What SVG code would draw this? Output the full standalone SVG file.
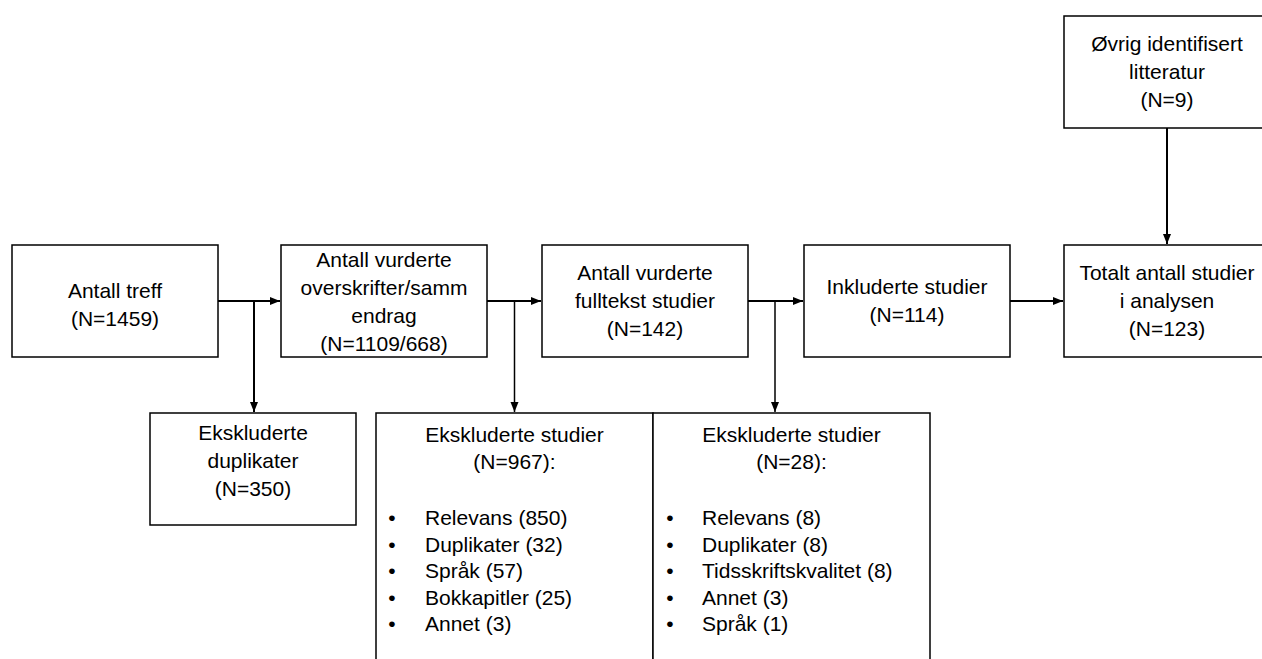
<svg xmlns="http://www.w3.org/2000/svg" width="1262" height="659" viewBox="0 0 1262 659">
  <style>
    .box { fill: #ffffff; stroke: #000000; stroke-width: 1.5; }
    .t { font-family: "Liberation Sans", Arial, sans-serif; font-size: 21px; fill: #000000; }
    .c { text-anchor: middle; }
    .conn { fill: none; stroke: #000000; stroke-width: 2; }
    .thin { stroke-width: 1.5; }
  </style>
  <defs>
    <marker id="arrow" markerUnits="userSpaceOnUse" markerWidth="10" markerHeight="10" viewBox="0 0 10 10" refX="10" refY="5" orient="auto">
      <path d="M0,1 L10,5 L0,9 Z" fill="#000000"/>
    </marker>
  </defs>
  <rect width="1262" height="659" fill="#ffffff"/>

  <g id="connectors">
    <path class="conn" d="M218,301 H280" marker-end="url(#arrow)"/>
    <path class="conn" d="M254,301 V412" marker-end="url(#arrow)"/>
    <path class="conn" d="M487,301 H541" marker-end="url(#arrow)"/>
    <path class="conn thin" d="M514.5,301 V412" marker-end="url(#arrow)"/>
    <path class="conn" d="M748,301 H803" marker-end="url(#arrow)"/>
    <path class="conn thin" d="M775,301 V412" marker-end="url(#arrow)"/>
    <path class="conn" d="M1010,301 H1063" marker-end="url(#arrow)"/>
    <path class="conn" d="M1167,128 V244" marker-end="url(#arrow)"/>
  </g>

  <g id="node-antall-treff">
    <rect class="box" x="12" y="245" width="206" height="112"/>
    <text class="t c" x="115" y="298">Antall treff</text>
    <text class="t c" x="115" y="326">(N=1459)</text>
  </g>

  <g id="node-overskrifter">
    <rect class="box" x="281" y="245" width="206" height="112"/>
    <text class="t c" x="384" y="267">Antall vurderte</text>
    <text class="t c" x="384" y="295">overskrifter/samm</text>
    <text class="t c" x="384" y="323">endrag</text>
    <text class="t c" x="384" y="351">(N=1109/668)</text>
  </g>

  <g id="node-fulltekst">
    <rect class="box" x="542" y="245" width="206" height="112"/>
    <text class="t c" x="645" y="280">Antall vurderte</text>
    <text class="t c" x="645" y="308">fulltekst studier</text>
    <text class="t c" x="645" y="336">(N=142)</text>
  </g>

  <g id="node-inkluderte">
    <rect class="box" x="804" y="245" width="206" height="112"/>
    <text class="t c" x="907" y="294">Inkluderte studier</text>
    <text class="t c" x="907" y="322">(N=114)</text>
  </g>

  <g id="node-totalt">
    <rect class="box" x="1064" y="245" width="206" height="112"/>
    <text class="t c" x="1167" y="280">Totalt antall studier</text>
    <text class="t c" x="1167" y="308">i analysen</text>
    <text class="t c" x="1167" y="336">(N=123)</text>
  </g>

  <g id="node-ovrig">
    <rect class="box" x="1064" y="16" width="206" height="112"/>
    <text class="t c" x="1167" y="51">Øvrig identifisert</text>
    <text class="t c" x="1167" y="79">litteratur</text>
    <text class="t c" x="1167" y="107">(N=9)</text>
  </g>

  <g id="node-ekskl-duplikater">
    <rect class="box" x="150" y="413" width="206" height="112"/>
    <text class="t c" x="253" y="440">Ekskluderte</text>
    <text class="t c" x="253" y="468">duplikater</text>
    <text class="t c" x="253" y="496">(N=350)</text>
  </g>

  <g id="node-ekskl-967">
    <rect class="box" x="376" y="413" width="277" height="300"/>
    <text class="t c" x="514.5" y="442">Ekskluderte studier</text>
    <text class="t c" x="514.5" y="469">(N=967):</text>
    <text class="t c" x="392" y="525">•</text>
    <text class="t" x="425" y="525">Relevans (850)</text>
    <text class="t c" x="392" y="551.5">•</text>
    <text class="t" x="425" y="551.5">Duplikater (32)</text>
    <text class="t c" x="392" y="578">•</text>
    <text class="t" x="425" y="578">Språk (57)</text>
    <text class="t c" x="392" y="604.5">•</text>
    <text class="t" x="425" y="604.5">Bokkapitler (25)</text>
    <text class="t c" x="392" y="631">•</text>
    <text class="t" x="425" y="631">Annet (3)</text>
  </g>

  <g id="node-ekskl-28">
    <rect class="box" x="653" y="413" width="277" height="300"/>
    <text class="t c" x="791.5" y="442">Ekskluderte studier</text>
    <text class="t c" x="791.5" y="469">(N=28):</text>
    <text class="t c" x="670" y="525">•</text>
    <text class="t" x="702" y="525">Relevans (8)</text>
    <text class="t c" x="670" y="551.5">•</text>
    <text class="t" x="702" y="551.5">Duplikater (8)</text>
    <text class="t c" x="670" y="578">•</text>
    <text class="t" x="702" y="578">Tidsskriftskvalitet (8)</text>
    <text class="t c" x="670" y="604.5">•</text>
    <text class="t" x="702" y="604.5">Annet (3)</text>
    <text class="t c" x="670" y="631">•</text>
    <text class="t" x="702" y="631">Språk (1)</text>
  </g>
</svg>
